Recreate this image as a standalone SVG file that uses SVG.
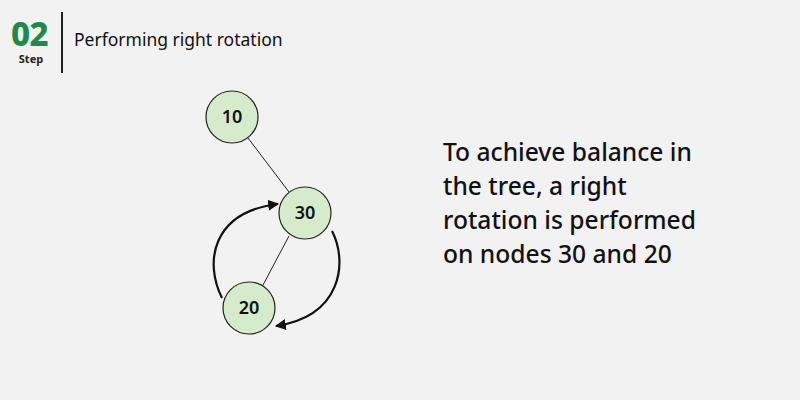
<svg xmlns="http://www.w3.org/2000/svg" width="800" height="400" viewBox="0 0 800 400">
<style>
.node circle{fill:#d6ebcc;stroke:#222;stroke-width:1.2}
.node text{font-family:"Noto Sans",sans-serif;font-size:18px;font-weight:600;fill:#111;text-anchor:middle}
.edge{stroke:#222;stroke-width:1;fill:none}
.arc{stroke:#111;stroke-width:2.2;fill:none;marker-end:url(#ah)}
.body{font-family:"Noto Sans",sans-serif;font-size:24.6px;font-weight:500;fill:#111}
</style>
<defs>
<marker id="ah" viewBox="0 0 10 10" refX="9" refY="5" markerWidth="5" markerHeight="5" orient="auto" markerUnits="strokeWidth">
<path d="M0,0 L10,5 L0,10 z" fill="#111"/>
</marker>
</defs>
<rect width="800" height="400" fill="#f2f2f2"/>
<g id="header">
<text x="11" y="46" font-family="Noto Sans,sans-serif" font-size="33" font-weight="800" fill="#1f8a4c" letter-spacing="-0.5">02</text>
<text x="31" y="63" font-family="Noto Sans,sans-serif" font-size="11" font-weight="700" fill="#222" text-anchor="middle">Step</text>
<line x1="62" y1="12" x2="62" y2="73" stroke="#222" stroke-width="2"/>
<text x="74" y="46" font-family="Noto Sans,sans-serif" font-size="17.5" fill="#111">Performing right rotation</text>
</g>
<g id="connectors">
<line class="edge" x1="248" y1="138" x2="289" y2="192"/>
<line class="edge" x1="289" y1="236" x2="263" y2="285"/>
<path class="arc" d="M222 298 C 204 262, 212 212, 278 204"/>
<path class="arc" d="M332 231 C 348 262, 342 316, 276 326"/>
</g>
<g id="node-10" class="node"><circle cx="232" cy="117" r="26"/><text x="232" y="123">10</text></g>
<g id="node-30" class="node"><circle cx="305" cy="213" r="26"/><text x="305" y="219">30</text></g>
<g id="node-20" class="node"><circle cx="249" cy="308" r="26"/><text x="249" y="314">20</text></g>
<g id="caption">
<text class="body" x="443" y="161">To achieve balance in</text>
<text class="body" x="443" y="195">the tree, a right</text>
<text class="body" x="443" y="229">rotation is performed</text>
<text class="body" x="443" y="263">on nodes 30 and 20</text>
</g>
</svg>
